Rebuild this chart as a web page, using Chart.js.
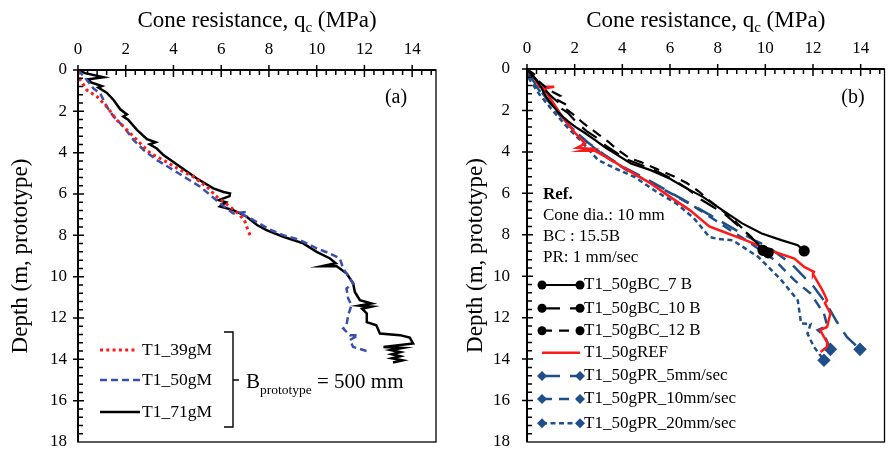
<!DOCTYPE html>
<html>
<head>
<meta charset="utf-8">
<script src="https://cdn.jsdelivr.net/npm/chart.js@4"></script>
<style>
  html, body { margin: 0; padding: 0; background: #fff; }
  #wrap { position: relative; width: 892px; height: 451px; }
  canvas { position: absolute; top: 0; }
  #chartA { left: 0; }
  #chartB { left: 446px; }
</style>
</head>
<body>
<div id="wrap">
  <canvas id="chartA" width="446" height="451"></canvas>
  <canvas id="chartB" width="446" height="451"></canvas>
</div>
<script>
// axis ticks (both panels)
const qcTicks = [0, 2, 4, 6, 8, 10, 12, 14];
const depthTicks = [0, 2, 4, 6, 8, 10, 12, 14, 16, 18];

// ---- panel (a) ----
const t1_39_qc    = [0, 0.1, 0.37, 0.8, 1.21, 1.63, 2.05, 2.61, 3.03, 3.58, 4.28, 4.84, 5.4, 5.82, 6.37, 6.79, 7.0, 7.07, 7.21];
const t1_39_depth = [0.1, 0.48, 0.97, 1.29, 1.78, 2.42, 2.9, 3.55, 4.03, 4.36, 4.84, 5.17, 5.65, 6.14, 6.62, 7.02, 7.35, 7.59, 7.99];

const t1_50_qc    = [0, 0.37, 0.65, 0.93, 1.21, 1.49, 1.91, 2.33, 2.75, 3.31, 4.0, 4.56, 5.12, 5.54, 5.95, 6.51, 7.07, 6.9, 7.35, 8.0, 8.6, 9.3, 10.0, 10.56, 10.97, 11.11, 11.39, 11.53, 11.25, 11.32, 11.46, 11.32, 11.25, 11.11, 11.39, 11.74, 11.39, 11.53, 12.09];
const t1_50_depth = [0, 0.48, 0.9, 1.13, 1.78, 2.26, 2.74, 3.39, 3.87, 4.36, 4.84, 5.25, 5.65, 6.05, 6.46, 6.94, 6.86, 7.0, 7.26, 7.7, 7.99, 8.23, 8.63, 8.88, 9.12, 9.6, 10.09, 10.33, 10.57, 11.05, 11.38, 11.86, 12.35, 12.51, 12.83, 12.83, 13.07, 13.4, 13.6];

const t1_71_qc    = [0, 0.3, 1.07, 0.45, 0.55, 1.0, 0.85, 1.2, 1.49, 1.77, 2.05, 1.9, 2.1, 2.47, 2.89, 3.25, 3.0, 3.3, 3.58, 4.28, 4.98, 5.67, 6.1, 6.37, 6.35, 5.9, 6.2, 5.95, 6.51, 7.07, 7.5, 7.9, 8.6, 9.44, 10.0, 10.56, 10.8, 10.2, 10.84, 11.26, 11.53, 11.6, 11.81, 12.3, 11.8, 12.3, 11.9, 12.1, 12.1, 12.5, 12.65, 13.49, 13.9, 14.04, 12.8, 13.6, 13.1, 13.5, 13.15, 13.5, 13.15, 13.6, 13.2];
const t1_71_depth = [0, 0.15, 0.35, 0.45, 0.6, 0.78, 0.85, 1.1, 1.45, 1.9, 2.15, 2.25, 2.4, 2.9, 3.35, 3.5, 3.6, 3.8, 4.12, 4.68, 5.25, 5.73, 5.9, 5.97, 6.1, 6.3, 6.4, 6.6, 6.78, 7.1, 7.5, 7.75, 8.07, 8.39, 8.8, 9.12, 9.35, 9.5, 9.5, 9.85, 10.33, 10.74, 11.14, 11.3, 11.4, 11.45, 11.55, 11.78, 12.2, 12.35, 12.75, 12.83, 12.95, 13.23, 13.4, 13.45, 13.55, 13.65, 13.75, 13.85, 13.95, 14.05, 14.15];

// ---- panel (b) ----
const bc7_qc    = [0, 0.2, 0.39, 0.6, 0.8, 1.1, 1.35, 1.7, 2.03, 2.45, 2.86, 3.3, 3.68, 4.36, 5.19, 6.0, 6.6, 7.38, 8.2, 9.03, 9.85, 10.67, 11.36, 11.63];
const bc7_depth = [0, 0.3, 0.53, 0.9, 1.34, 1.8, 2.14, 2.5, 2.79, 3.1, 3.43, 3.8, 4.07, 4.56, 4.88, 5.3, 5.7, 6.17, 6.81, 7.45, 7.94, 8.26, 8.5, 8.78];

const bc10_qc    = [0, 0.3, 0.6, 1.0, 1.4, 1.3, 1.7, 2.1, 2.5, 2.9, 3.3, 3.7, 4.05, 4.6, 5.3, 6.0, 6.7, 7.3, 7.8, 8.3, 8.75, 9.2, 9.6, 10.12];
const bc10_depth = [0, 0.4, 0.8, 1.3, 1.7, 1.8, 2.1, 2.6, 3.0, 3.3, 3.7, 4.0, 4.3, 4.55, 4.85, 5.25, 5.75, 6.3, 6.65, 7.0, 7.45, 7.9, 8.35, 8.87];

const bc12_qc    = [0, 0.35, 0.5, 0.9, 1.4, 1.2, 1.7, 1.6, 1.95, 2.35, 2.7, 3.05, 3.4, 3.8, 4.3, 4.8, 5.4, 6.1, 6.7, 7.2, 7.6, 8.1, 8.6, 9.0, 9.4, 9.9];
const bc12_depth = [0, 0.3, 0.6, 1.0, 1.3, 1.45, 1.75, 1.9, 2.2, 2.6, 2.9, 3.2, 3.5, 3.9, 4.3, 4.5, 4.8, 5.15, 5.5, 5.9, 6.3, 6.75, 7.2, 7.65, 8.1, 8.75];

const ref_qc    = [0, 0.3, 0.52, 1.14, 0.7, 0.93, 1.48, 2.03, 2.44, 2.1, 2.7, 2.3, 2.86, 3.54, 4.23, 5.19, 6.0, 6.83, 7.65, 8.07, 9.16, 10.4, 11.22, 11.63, 12.04, 12.0, 12.32, 12.45, 12.59, 12.5, 12.73, 12.59, 12.3, 12.46, 12.6, 12.59, 12.32];
const ref_depth = [0.05, 0.4, 0.86, 0.86, 0.95, 1.34, 2.3, 3.1, 3.6, 3.8, 3.85, 3.95, 3.95, 4.4, 4.88, 5.52, 6.17, 6.81, 7.6, 7.78, 8.26, 8.83, 9.15, 9.55, 9.79, 9.9, 10.52, 10.8, 11.16, 11.3, 11.8, 12.45, 12.6, 12.93, 13.2, 13.4, 13.66];

const pr5_qc    = [0, 0.1, 0.4, 0.8, 1.3, 1.9, 2.5, 3.2, 4.0, 5.0, 6.0, 7.0, 7.9, 8.8, 9.6, 10.12, 11.08, 12.04, 12.6, 13.0, 13.42, 13.97];
const pr5_depth = [0, 0.3, 0.8, 1.4, 2.1, 2.9, 3.5, 4.1, 4.7, 5.3, 5.95, 6.6, 7.2, 7.8, 8.3, 8.58, 9.39, 10.52, 11.4, 12.2, 12.93, 13.53];

const pr10_qc    = [0, 0.1, 0.5, 1.0, 1.5, 2.1, 2.7, 3.4, 4.2, 5.2, 6.2, 7.1, 7.9, 8.7, 9.5, 10.4, 11.22, 11.9, 12.46, 12.6, 12.2, 12.5, 12.73];
const pr10_depth = [0, 0.4, 1.0, 1.7, 2.4, 3.1, 3.7, 4.3, 4.9, 5.5, 6.1, 6.7, 7.3, 7.9, 8.5, 9.23, 10.19, 10.84, 11.8, 12.4, 12.6, 12.9, 13.53];

const pr20_qc    = [0, 0.1, 0.5, 1.0, 1.6, 2.2, 2.99, 3.7, 4.5, 5.4, 6.28, 7.0, 7.65, 8.0, 8.62, 9.71, 10.67, 11.36, 11.5, 11.9, 11.77, 12.04, 12.46];
const pr20_depth = [0, 0.5, 1.2, 1.9, 2.7, 3.4, 4.4, 4.8, 5.2, 5.9, 6.5, 7.2, 8.1, 8.2, 8.26, 9.07, 10.19, 11.16, 12.28, 12.3, 12.77, 13.41, 14.06];

const SERIF = '"Liberation Serif", "Times New Roman", serif';
const BLUE_A = '#3a50ac';
const BLUE_B = '#1f4f8a';
const RED = '#ff1a1a';

function pts(qc, depth) {
  return qc.map((v, i) => ({ x: v, y: depth[i] }));
}

// marker only on the last point of a curve
function endMarker(r) {
  return ctx => ctx.dataIndex === ctx.dataset.data.length - 1 ? r : 0;
}

function drawMarker(ctx, style, x, y, color) {
  ctx.save();
  ctx.fillStyle = color;
  ctx.beginPath();
  if (style === 'circle') {
    ctx.arc(x, y, 4.5, 0, Math.PI * 2);
  } else {
    ctx.moveTo(x, y - 5); ctx.lineTo(x + 5, y); ctx.lineTo(x, y + 5); ctx.lineTo(x - 5, y); ctx.closePath();
  }
  ctx.fill();
  ctx.restore();
}

function sampleLine(ctx, x1, x2, y, color, width, dash, marker) {
  ctx.save();
  ctx.strokeStyle = color;
  ctx.lineWidth = width;
  ctx.setLineDash(dash);
  ctx.beginPath();
  ctx.moveTo(x1, y);
  ctx.lineTo(x2, y);
  ctx.stroke();
  ctx.restore();
  if (marker) {
    drawMarker(ctx, marker, x1, y, color);
    drawMarker(ctx, marker, x2, y, color);
  }
}

// frame, inward ticks and axis titles
function framePlugin(cfg) {
  return {
    id: 'frame' + cfg.name,
    afterDraw(chart) {
      const ctx = chart.ctx;
      const a = chart.chartArea;
      const xs = chart.scales.x, ys = chart.scales.y;
      ctx.save();
      ctx.strokeStyle = '#000';
      ctx.lineWidth = 1.3;
      ctx.strokeRect(a.left, a.top, a.right - a.left, a.bottom - a.top);
      ctx.lineWidth = 2;
      ctx.beginPath();
      ctx.moveTo(a.left, a.bottom); ctx.lineTo(a.left, a.top); ctx.lineTo(a.right, a.top);
      ctx.stroke();

      ctx.lineWidth = 1.5;
      ctx.beginPath();
      for (let i = 0; i * 0.4 < 15; i++) {
        const px = xs.getPixelForValue(i * 0.4);
        if (i % 5 === 0) { ctx.moveTo(px, a.top - 5); ctx.lineTo(px, a.top + 7); }
        else { ctx.moveTo(px, a.top); ctx.lineTo(px, a.top + 5); }
      }
      for (let i = 0; i * 0.4 < 18; i++) {
        const py = ys.getPixelForValue(i * 0.4);
        if (i % 5 === 0) { ctx.moveTo(a.left - 5, py); ctx.lineTo(a.left + 6, py); }
        else { ctx.moveTo(a.left, py); ctx.lineTo(a.left + 5, py); }
      }
      ctx.stroke();

      // x title with subscript
      ctx.fillStyle = '#000';
      ctx.textBaseline = 'alphabetic';
      ctx.textAlign = 'left';
      const big = '23px ' + SERIF, small = '15px ' + SERIF;
      const p1 = 'Cone resistance, q', p2 = 'c', p3 = ' (MPa)';
      ctx.font = big;
      const w1 = ctx.measureText(p1).width, w3 = ctx.measureText(p3).width;
      ctx.font = small;
      const w2 = ctx.measureText(p2).width;
      let tx = (a.left + a.right) / 2 - (w1 + w2 + w3) / 2;
      ctx.font = big; ctx.fillText(p1, tx, cfg.titleY); tx += w1;
      ctx.font = small; ctx.fillText(p2, tx, cfg.titleY + 5); tx += w2;
      ctx.font = big; ctx.fillText(p3, tx, cfg.titleY);

      // y title
      ctx.save();
      ctx.translate(cfg.yTitleX, (a.top + a.bottom) / 2);
      ctx.rotate(-Math.PI / 2);
      ctx.textAlign = 'center';
      ctx.font = big;
      ctx.fillText('Depth (m, prototype)', 0, 0);
      ctx.restore();

      // panel tag
      ctx.font = '20px ' + SERIF;
      ctx.textAlign = 'center';
      ctx.textBaseline = 'middle';
      ctx.fillText(cfg.tag, cfg.tagX, 98);

      if (cfg.extra) cfg.extra(ctx);
      ctx.restore();
    }
  };
}

function noPad(s) {
  s.paddingLeft = 0; s.paddingRight = 0; s.paddingTop = 0; s.paddingBottom = 0;
}

function baseOptions(area) {
  const tickFont = { family: SERIF, size: 17 };
  return {
    responsive: false,
    animation: false,
    devicePixelRatio: 1,
    events: [],
    layout: { padding: { left: 0, top: 0, right: 446 - area.right, bottom: 451 - area.bottom } },
    plugins: { legend: { display: false }, tooltip: { enabled: false } },
    elements: { line: { tension: 0 } },
    scales: {
      x: {
        type: 'linear', position: 'top', min: 0, max: 15,
        grid: { display: false, drawTicks: false }, border: { display: false },
        afterBuildTicks: s => { s.ticks = qcTicks.map(v => ({ value: v })); },
        ticks: { font: tickFont, color: '#000', padding: 10, maxRotation: 0, autoSkip: false },
        afterFit: s => { s.height = area.top; noPad(s); }
      },
      y: {
        type: 'linear', reverse: true, min: 0, max: 18,
        grid: { display: false, drawTicks: false }, border: { display: false },
        afterBuildTicks: s => { s.ticks = depthTicks.map(v => ({ value: v })); },
        ticks: { font: tickFont, color: '#000', padding: area.yPad, autoSkip: false },
        afterFit: s => { s.width = area.left; noPad(s); }
      }
    }
  };
}

// ---------- chart (a) ----------
const legendA = ctx => {
  ctx.textAlign = 'left';
  ctx.textBaseline = 'middle';
  ctx.font = '17.5px ' + SERIF;
  sampleLine(ctx, 100, 137, 350, RED, 3, [3, 3.3]);
  ctx.fillText('T1_39gM', 142, 350);
  sampleLine(ctx, 100, 140, 380, BLUE_A, 2.5, [7, 4]);
  ctx.fillText('T1_50gM', 142, 380);
  sampleLine(ctx, 100, 140, 412, '#000', 2.5, []);
  ctx.fillText('T1_71gM', 142, 412);

  ctx.strokeStyle = '#000';
  ctx.lineWidth = 1.4;
  ctx.setLineDash([]);
  ctx.beginPath();
  ctx.moveTo(224, 332); ctx.lineTo(233, 332); ctx.lineTo(233, 427); ctx.lineTo(224, 427);
  ctx.moveTo(233, 380); ctx.lineTo(239, 380);
  ctx.stroke();

  ctx.textBaseline = 'alphabetic';
  ctx.font = '21px ' + SERIF;
  ctx.fillText('B', 246, 388);
  let x = 246 + ctx.measureText('B').width;
  ctx.font = '13.5px ' + SERIF;
  ctx.fillText('prototype', x, 394);
  x += ctx.measureText('prototype').width;
  ctx.font = '21px ' + SERIF;
  ctx.fillText(' = 500 mm', x, 388);
};

new Chart(document.getElementById('chartA'), {
  type: 'scatter',
  data: {
    datasets: [
      { label: 'T1_39gM', data: pts(t1_39_qc, t1_39_depth), showLine: true, borderColor: RED, borderWidth: 3, borderDash: [3, 3.3], pointRadius: 0 },
      { label: 'T1_50gM', data: pts(t1_50_qc, t1_50_depth), showLine: true, borderColor: BLUE_A, borderWidth: 2.5, borderDash: [7, 4], pointRadius: 0 },
      { label: 'T1_71gM', data: pts(t1_71_qc, t1_71_depth), showLine: true, borderColor: '#000', borderWidth: 2.5, pointRadius: 0 }
    ]
  },
  options: baseOptions({ left: 78, top: 70, right: 436, bottom: 442, yPad: 11 }),
  plugins: [framePlugin({ name: 'A', titleY: 27, yTitleX: 27, tag: '(a)', tagX: 396, extra: legendA })]
});

// ---------- chart (b) ----------
const legendB = ctx => {
  ctx.textAlign = 'left';
  ctx.textBaseline = 'middle';
  ctx.font = 'bold 17px ' + SERIF;
  ctx.fillText('Ref.', 97, 195);
  ctx.font = '17px ' + SERIF;
  ctx.fillText('Cone dia.: 10 mm', 97, 215.5);
  ctx.fillText('BC : 15.5B', 97, 237);
  ctx.fillText('PR: 1 mm/sec', 97, 258);

  const rows = [
    ['T1_50gBC_7 B', '#000', 2.2, [], 'circle', 285],
    ['T1_50gBC_10 B', '#000', 2.2, [18, 10], 'circle', 308.3],
    ['T1_50gBC_12 B', '#000', 2.2, [10, 7], 'circle', 330.7],
    ['T1_50gREF', RED, 2.5, [], null, 352.7],
    ['T1_50gPR_5mm/sec', BLUE_B, 2.5, [18, 10], 'diamond', 376],
    ['T1_50gPR_10mm/sec', BLUE_B, 2.5, [10, 7], 'diamond', 399],
    ['T1_50gPR_20mm/sec', BLUE_B, 2.5, [5, 3.5], 'diamond', 423.3]
  ];
  rows.forEach(r => {
    sampleLine(ctx, 96, 134, r[5], r[1], r[2], r[3], r[4]);
    ctx.fillStyle = '#000';
    ctx.font = '17px ' + SERIF;
    ctx.fillText(r[0], 138, r[5]);
  });
};

new Chart(document.getElementById('chartB'), {
  type: 'scatter',
  data: {
    datasets: [
      { label: 'T1_50gBC_7 B', data: pts(bc7_qc, bc7_depth), showLine: true, borderColor: '#000', backgroundColor: '#000', borderWidth: 2.2, pointRadius: endMarker(4.5), pointStyle: 'circle' },
      { label: 'T1_50gBC_10 B', data: pts(bc10_qc, bc10_depth), showLine: true, borderColor: '#000', backgroundColor: '#000', borderWidth: 2.2, borderDash: [18, 10], pointRadius: endMarker(4.5), pointStyle: 'circle' },
      { label: 'T1_50gBC_12 B', data: pts(bc12_qc, bc12_depth), showLine: true, borderColor: '#000', backgroundColor: '#000', borderWidth: 2.2, borderDash: [10, 7], pointRadius: endMarker(4.5), pointStyle: 'circle' },
      { label: 'T1_50gREF', data: pts(ref_qc, ref_depth), showLine: true, borderColor: RED, borderWidth: 2.5, pointRadius: 0 },
      { label: 'T1_50gPR_5mm/sec', data: pts(pr5_qc, pr5_depth), showLine: true, borderColor: BLUE_B, backgroundColor: BLUE_B, borderWidth: 2.5, borderDash: [18, 10], pointRadius: endMarker(5), pointStyle: 'rectRot' },
      { label: 'T1_50gPR_10mm/sec', data: pts(pr10_qc, pr10_depth), showLine: true, borderColor: BLUE_B, backgroundColor: BLUE_B, borderWidth: 2.5, borderDash: [10, 7], pointRadius: endMarker(5), pointStyle: 'rectRot' },
      { label: 'T1_50gPR_20mm/sec', data: pts(pr20_qc, pr20_depth), showLine: true, borderColor: BLUE_B, backgroundColor: BLUE_B, borderWidth: 2.5, borderDash: [5, 3.5], pointRadius: endMarker(5), pointStyle: 'rectRot' }
    ]
  },
  options: baseOptions({ left: 81, top: 69, right: 444, bottom: 442, yPad: 17 }),
  plugins: [framePlugin({ name: 'B', titleY: 26.5, yTitleX: 35.5, tag: '(b)', tagX: 407, extra: legendB })]
});
</script>
</body>
</html>
